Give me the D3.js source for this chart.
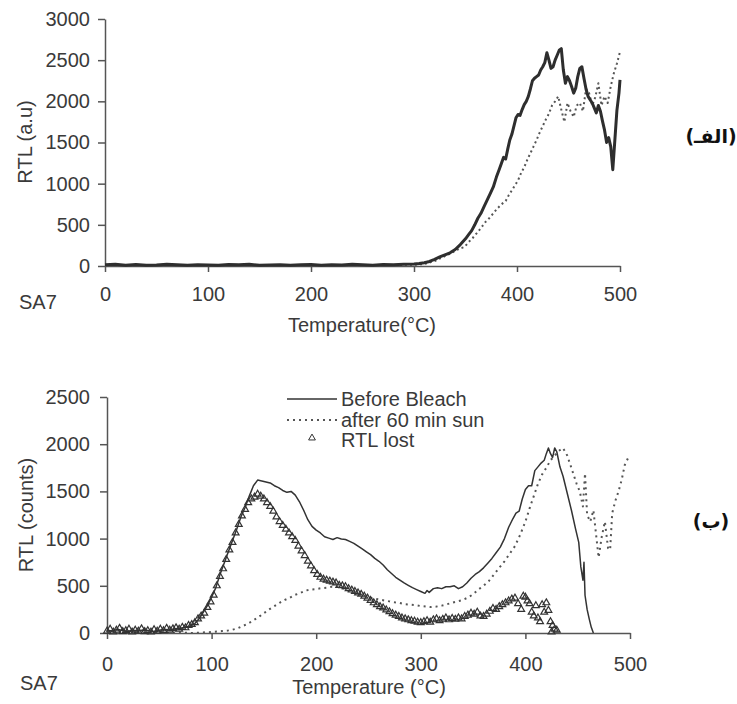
<!DOCTYPE html>
<html>
<head>
<meta charset="utf-8">
<script src="https://cdn.jsdelivr.net/npm/d3@7"></script>
<style>
    body { margin: 0; background: #fff; }
    text { font-family: "Liberation Sans", Arial, sans-serif; fill: #3a3a3a; }
    .axis text { font-size: 20px; fill: #3a3a3a; }
    .axis path, .axis line { stroke: #555; stroke-width: 1.5px; }
</style>
</head>
<body>
<div id="chart"></div>
<script>
// temperature ticks shared by both panels
const xTicks = [0, 100, 200, 300, 400, 500];
const topYTicks = [0, 500, 1000, 1500, 2000, 2500, 3000];
const botYTicks = [0, 500, 1000, 1500, 2000, 2500];
const legendLabels = ['Before Bleach', 'after 60 min sun', 'RTL lost'];

// panel (الف): [temperature, RTL a.u]
const topSolid = [[0,15],[10,20],[20,10],[30,18],[40,8],[50,12],[60,20],[70,14],[80,10],[90,16],[100,12],[110,8],[120,18],[130,14],[140,20],[150,10],[160,12],[170,16],[180,8],[190,14],[200,18],[210,10],[220,16],[230,12],[240,20],[250,14],[260,10],[270,18],[280,15],[290,22],[300,25],[305,30],[310,40],[315,55],[320,80],[325,110],[330,135],[335,160],[340,200],[345,260],[350,330],[353,380],[356,430],[359,500],[362,580],[365,640],[368,720],[371,800],[374,880],[377,960],[380,1080],[383,1180],[385,1250],[387,1320],[389,1300],[391,1420],[393,1530],[395,1600],[397,1700],[399,1800],[401,1840],[403,1830],[405,1900],[407,1960],[409,2000],[411,2060],[413,2150],[415,2250],[417,2280],[419,2300],[421,2320],[423,2380],[425,2420],[427,2470],[429,2590],[431,2500],[433,2400],[435,2420],[437,2500],[439,2560],[441,2620],[443,2640],[445,2380],[447,2220],[449,2300],[451,2250],[453,2180],[455,2100],[457,2160],[459,2300],[461,2400],[463,2420],[465,2280],[467,2150],[469,2060],[471,2020],[473,1980],[475,1920],[477,1860],[479,1950],[481,1880],[483,1760],[485,1650],[487,1500],[489,1560],[491,1450],[493,1170],[495,1530],[497,1890],[499,2100],[500,2260]];
const topDotted = [[0,5],[25,10],[50,5],[75,12],[100,6],[125,10],[150,5],[175,12],[200,8],[225,10],[250,6],[275,12],[300,15],[310,25],[320,60],[330,120],[335,150],[340,185],[345,215],[349,230],[353,290],[357,340],[361,400],[365,460],[369,530],[373,580],[377,640],[381,700],[385,750],[389,790],[392,860],[395,920],[398,980],[401,1040],[404,1130],[407,1200],[410,1290],[413,1370],[416,1450],[419,1530],[422,1620],[425,1700],[428,1780],[431,1850],[434,1950],[437,2000],[440,2060],[443,1900],[446,1750],[449,1980],[452,1880],[455,1810],[458,1950],[461,1980],[464,1880],[467,2150],[470,2100],[473,1950],[476,2050],[479,2220],[482,1950],[485,2060],[488,1980],[491,2180],[494,2340],[497,2460],[500,2600]];

// panel (ب): [temperature, RTL counts]
const botBefore = [[0,30],[5,20],[10,40],[15,25],[20,15],[25,30],[30,20],[35,35],[40,25],[45,15],[50,30],[55,40],[60,30],[65,45],[70,50],[75,60],[80,75],[84,100],[88,150],[92,220],[96,290],[100,380],[104,480],[108,620],[112,740],[116,860],[120,980],[124,1100],[128,1230],[132,1330],[136,1450],[140,1560],[144,1620],[148,1610],[152,1600],[156,1590],[160,1560],[164,1540],[168,1510],[172,1490],[176,1500],[180,1460],[184,1390],[188,1300],[192,1200],[196,1130],[200,1090],[204,1060],[208,1020],[212,1005],[216,990],[220,1010],[224,995],[228,990],[232,970],[236,950],[240,920],[244,890],[248,860],[252,830],[256,790],[260,760],[264,720],[268,670],[272,630],[276,590],[280,560],[284,530],[288,505],[292,480],[296,460],[300,440],[304,420],[306,450],[308,430],[312,470],[316,480],[320,470],[324,490],[328,490],[332,500],[336,470],[340,490],[344,530],[348,580],[352,620],[356,650],[360,690],[364,740],[368,790],[372,850],[376,910],[380,1000],[384,1120],[388,1210],[391,1270],[394,1290],[397,1420],[400,1520],[403,1560],[406,1560],[409,1720],[412,1760],[415,1800],[418,1830],[420,1900],[422,1960],[424,1900],[426,1860],[428,1960],[430,1920],[433,1760],[436,1660],[440,1480],[444,1300],[448,1100],[451,960],[453,700],[455,560],[456,750],[457,400],[459,250],[461,150],[463,60],[465,0]];
const botAfter = [[0,5],[10,5],[20,0],[30,5],[40,0],[50,5],[60,0],[70,5],[80,0],[90,5],[100,10],[105,15],[110,20],[115,25],[120,35],[125,50],[130,75],[135,100],[140,135],[145,170],[150,210],[155,250],[160,285],[165,320],[170,350],[175,375],[180,405],[185,425],[190,450],[195,460],[200,465],[205,475],[210,480],[215,490],[220,490],[225,475],[230,450],[235,430],[240,410],[245,395],[250,380],[255,365],[260,355],[265,345],[270,335],[275,325],[280,318],[285,305],[290,300],[295,295],[300,285],[305,280],[310,275],[315,280],[320,290],[325,305],[330,320],[335,335],[340,350],[345,375],[350,410],[355,460],[360,500],[365,550],[370,620],[375,690],[380,760],[385,840],[390,920],[395,1040],[400,1180],[404,1320],[408,1450],[412,1580],[416,1680],[420,1750],[424,1830],[428,1880],[432,1930],[436,1960],[440,1880],[443,1780],[446,1680],[449,1580],[452,1500],[455,1340],[457,1690],[459,1250],[462,1180],[465,1300],[468,1000],[470,800],[473,1020],[476,1180],[479,900],[481,880],[483,1270],[486,1400],[489,1500],[492,1620],[495,1780],[498,1850]];
const botLost = [[0,20],[3,40],[6,10],[9,30],[12,50],[15,15],[18,25],[21,40],[24,10],[27,30],[30,20],[33,45],[36,15],[39,25],[42,10],[45,35],[48,20],[51,40],[54,25],[57,50],[60,30],[63,45],[66,55],[69,40],[72,60],[75,55],[78,80],[81,90],[84,110],[87,150],[90,180],[93,210],[96,270],[99,330],[102,400],[105,500],[108,600],[111,680],[114,780],[117,880],[120,960],[123,1060],[126,1150],[129,1240],[132,1310],[135,1380],[138,1420],[141,1440],[144,1470],[147,1450],[150,1420],[153,1380],[156,1340],[159,1290],[162,1230],[165,1180],[168,1140],[171,1100],[174,1060],[177,1020],[180,980],[183,920],[186,870],[189,820],[192,760],[195,710],[198,660],[201,620],[204,590],[207,570],[210,560],[213,550],[216,540],[219,530],[222,505],[225,500],[228,490],[231,470],[234,455],[237,440],[240,425],[243,410],[246,390],[249,370],[252,345],[255,320],[258,300],[261,280],[264,265],[267,245],[270,225],[273,205],[276,190],[279,175],[282,160],[285,150],[288,140],[291,130],[294,125],[297,115],[300,110],[303,120],[306,130],[309,115],[312,140],[315,150],[318,130],[321,145],[324,160],[327,140],[330,155],[333,145],[336,160],[339,150],[342,175],[345,190],[348,210],[351,200],[354,220],[357,180],[360,175],[363,200],[366,230],[369,260],[372,250],[375,280],[378,300],[381,320],[384,340],[387,360],[390,370],[393,310],[396,250],[398,390],[400,380],[402,340],[404,310],[406,220],[408,180],[410,290],[412,160],[414,120],[416,300],[418,220],[420,320],[422,240],[424,120],[426,80],[428,40],[430,30],[425,10]];

let svg = d3.select('#chart').append('svg')
    .attr('width', 737)
    .attr('height', 704);

function drawAxes(x, y, yTicks, xPad, yPad) {
    svg.append('g')
        .attr('class', 'axis')
        .attr('transform', 'translate(0,' + y.range()[0] + ')')
        .call(d3.axisBottom(x).tickValues(xTicks).tickFormat(d3.format('d'))
            .tickSize(6).tickSizeOuter(0).tickPadding(xPad));

    svg.append('g')
        .attr('class', 'axis')
        .attr('transform', 'translate(' + x.range()[0] + ',0)')
        .call(d3.axisLeft(y).tickValues(yTicks).tickFormat(d3.format('d'))
            .tickSize(7).tickSizeOuter(0).tickPadding(yPad));

    svg.selectAll('.axis').attr('font-family', null).attr('font-size', null);
}

function drawLine(data, x, y, width, dash, color) {
    let line = d3.line()
        .x(d => x(d[0]))
        .y(d => y(d[1]));

    svg.append('path')
        .datum(data)
        .attr('d', line)
        .attr('fill', 'none')
        .attr('stroke', color)
        .attr('stroke-width', width)
        .attr('stroke-linejoin', 'round')
        .attr('stroke-dasharray', dash);
}

// ---- top panel
let xTop = d3.scaleLinear().domain([0, 500]).range([105, 620]);
let yTop = d3.scaleLinear().domain([0, 3000]).range([266, 19]);

drawAxes(xTop, yTop, topYTicks, 15, 8);
drawLine(topDotted, xTop, yTop, 2, '2,3', '#555');
drawLine(topSolid, xTop, yTop, 3, null, '#2e2e2e');

svg.append('text')
    .attr('transform', 'translate(32,' + 142 + ') rotate(-90)')
    .attr('text-anchor', 'middle')
    .style('font-size', '20px')
    .text('RTL (a.u)');

svg.append('text')
    .attr('x', 19).attr('y', 309)
    .style('font-size', '20px')
    .text('SA7');

svg.append('text')
    .attr('x', 362).attr('y', 332)
    .attr('text-anchor', 'middle')
    .style('font-size', '20px')
    .text('Temperature(°C)');

svg.append('text')
    .attr('x', 711).attr('y', 143)
    .attr('text-anchor', 'middle')
    .style('font-family', '"DejaVu Sans", sans-serif')
    .style('font-weight', 'bold')
    .style('font-size', '19px')
    .style('fill', '#111')
    .text('(الفـ)');

// ---- bottom panel
let xBot = d3.scaleLinear().domain([0, 500]).range([107, 630]);
let yBot = d3.scaleLinear().domain([0, 2500]).range([633, 397]);

drawAxes(xBot, yBot, botYTicks, 18, 10);
drawLine(botAfter, xBot, yBot, 2, '2,4', '#555');
drawLine(botBefore, xBot, yBot, 1.5, null, '#333');

let tri = d3.symbol().type(d3.symbolTriangle).size(20);

svg.append('g')
    .selectAll('path')
    .data(botLost)
    .enter().append('path')
    .attr('d', tri)
    .attr('transform', d => 'translate(' + xBot(d[0]) + ',' + yBot(d[1]) + ')')
    .attr('fill', 'none')
    .attr('stroke', '#333')
    .attr('stroke-width', 1.2);

svg.append('text')
    .attr('transform', 'translate(33,' + 515 + ') rotate(-90)')
    .attr('text-anchor', 'middle')
    .style('font-size', '20px')
    .text('RTL (counts)');

svg.append('text')
    .attr('x', 20).attr('y', 690)
    .style('font-size', '20px')
    .text('SA7');

svg.append('text')
    .attr('x', 369).attr('y', 694)
    .attr('text-anchor', 'middle')
    .style('font-size', '20px')
    .text('Temperature (°C)');

svg.append('text')
    .attr('x', 711).attr('y', 528)
    .attr('text-anchor', 'middle')
    .style('font-family', '"DejaVu Sans", sans-serif')
    .style('font-weight', 'bold')
    .style('font-size', '19px')
    .style('fill', '#111')
    .text('(ب)');

// legend
let legendY = [399, 420, 440];
let legend = svg.append('g');

legend.append('line')
    .attr('x1', 287).attr('x2', 337)
    .attr('y1', legendY[0]).attr('y2', legendY[0])
    .attr('stroke', '#333').attr('stroke-width', 1.5);

legend.append('line')
    .attr('x1', 287).attr('x2', 337)
    .attr('y1', legendY[1]).attr('y2', legendY[1])
    .attr('stroke', '#555').attr('stroke-width', 2)
    .attr('stroke-dasharray', '2,4');

legend.append('path')
    .attr('d', tri)
    .attr('transform', 'translate(312,' + (legendY[2] - 2) + ')')
    .attr('fill', 'none')
    .attr('stroke', '#333');

legend.selectAll('text')
    .data(legendLabels)
    .enter().append('text')
    .attr('x', 341)
    .attr('y', (d, i) => legendY[i] + 7)
    .style('font-size', '20px')
    .text(d => d);
</script>
</body>
</html>
